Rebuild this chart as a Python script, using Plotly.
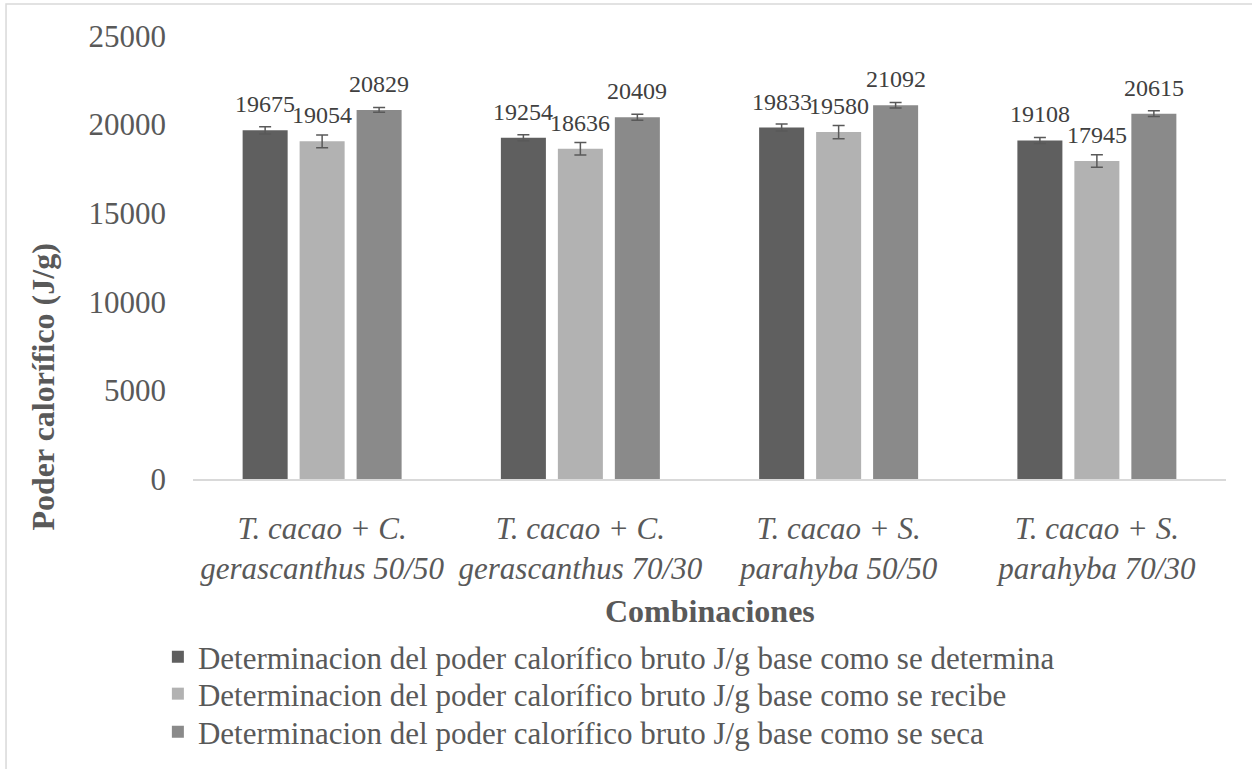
import plotly.graph_objects as go

categories = [
    "<i>T. cacao + C.</i><br><i>gerascanthus 50/50</i>",
    "<i>T. cacao + C.</i><br><i>gerascanthus 70/30</i>",
    "<i>T. cacao + S.</i><br><i>parahyba 50/50</i>",
    "<i>T. cacao + S.</i><br><i>parahyba 70/30</i>",
]
series_names = [
    "Determinacion del poder calorífico bruto J/g base como se determina",
    "Determinacion del poder calorífico bruto J/g base como se recibe",
    "Determinacion del poder calorífico bruto J/g base como se seca",
]
determina = [19675, 19254, 19833, 19108]
recibe = [19054, 18636, 19580, 17945]
seca = [20829, 20409, 21092, 20615]
err_determina = [200, 170, 195, 170]
err_recibe = [355, 355, 375, 350]
err_seca = [130, 170, 150, 160]
colors = ["#5f5f5f", "#b2b2b2", "#8a8a8a"]

values = [determina, recibe, seca]
errors = [err_determina, err_recibe, err_seca]

FONT = "Liberation Serif"
fig = go.Figure()
legend_ids = ["legend", "legend2", "legend3"]
for name, vals, errs, col, lg in zip(series_names, values, errors, colors, legend_ids):
    fig.add_trace(go.Bar(
        x=categories, y=vals, name=name, legend=lg,
        marker=dict(color=col, line=dict(width=0)),
        error_y=dict(type="data", array=errs, visible=True,
                     color="#595959", thickness=1.5, width=6),
    ))

offsets = [-57, 0, 57]
for vals, dx in zip(values, offsets):
    for c, v in zip(categories, vals):
        fig.add_annotation(x=c, y=v, text=str(v), showarrow=False,
                           xshift=dx, yshift=26, yanchor="middle",
                           font=dict(family=FONT, size=24, color="#404040"))

# axis titles
fig.add_annotation(xref="paper", yref="paper", x=-0.145, y=0.207,
                   text="<b>Poder calorífico (J/g)</b>", textangle=-90,
                   showarrow=False, xanchor="center", yanchor="middle",
                   font=dict(family=FONT, size=32, color="#595959"))
fig.add_annotation(xref="paper", yref="paper", x=0.5, y=-0.297,
                   text="<b>Combinaciones</b>",
                   showarrow=False, xanchor="center", yanchor="middle",
                   font=dict(family=FONT, size=32, color="#595959"))

fig.add_shape(type="rect", xref="paper", yref="paper",
              x0=-0.181, x1=1.2, y0=-1.0, y1=1.072,
              line=dict(color="#d9d9d9", width=1.5), fillcolor="rgba(0,0,0,0)", layer="below")

leg_font = dict(family=FONT, size=31, color="#595959")
leg_common = dict(orientation="v", x=-0.034, xanchor="left", yanchor="middle",
                  font=leg_font, bgcolor="rgba(0,0,0,0)", borderwidth=0)

fig.update_layout(
    width=1252, height=769,
    margin=dict(l=193, r=26, t=36, b=289),
    paper_bgcolor="white", plot_bgcolor="white",
    barmode="group", bargap=0.338, bargroupgap=0.21,
    font=dict(family=FONT, color="#595959"),
    showlegend=True,
    legend=dict(y=-0.399, **leg_common),
    legend2=dict(y=-0.482, **leg_common),
    legend3=dict(y=-0.568, **leg_common),
    xaxis=dict(showline=True, linecolor="#d9d9d9", linewidth=1.5,
               tickfont=dict(family=FONT, size=31, color="#595959"),
               ticks="", ticklabelstandoff=21),
    yaxis=dict(range=[0, 25000], dtick=5000, tickformat="d",
               showgrid=False, zeroline=False,
               showline=False, ticks="", ticklabelstandoff=26,
               tickfont=dict(family=FONT, size=31, color="#595959")),
)
fig.write_html("out.html", config={"displayModeBar": False},
               post_script="document.body.style.margin='0px';")
